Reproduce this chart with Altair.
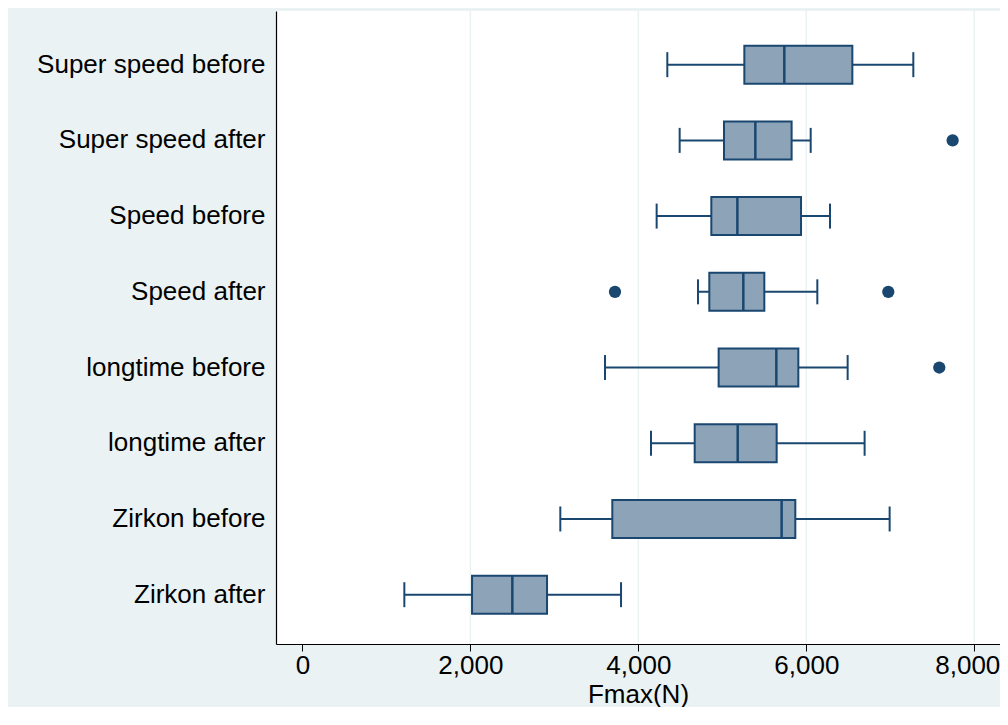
import altair as alt
import pandas as pd

categories = ["Super speed before", "Super speed after", "Speed before", "Speed after",
              "longtime before", "longtime after", "Zirkon before", "Zirkon after"]
whisker_lo = [4345, 4492, 4218, 4710, 3603, 4151, 3071, 1214]
q1 = [5262, 5020, 4869, 4845, 4956, 4671, 3690, 2020]
median = [5738, 5393, 5179, 5250, 5643, 5183, 5706, 2500]
q3 = [6548, 5825, 5937, 5500, 5905, 5647, 5869, 2913]
whisker_hi = [7274, 6052, 6282, 6131, 6492, 6694, 6992, 3794]

outlier_cat = ["Super speed after", "Speed after", "Speed after", "longtime before"]
outlier_val = [7742, 3722, 6976, 7583]

x_ticks = [0, 2000, 4000, 6000, 8000]
grid_values = [2000, 4000, 6000, 8000]

NAVY = "#1A476F"
FILL = "#8CA3B8"
BG = "#EAF2F3"
FONT = "Liberation Sans"

stats = pd.DataFrame({"cat": categories, "lo": whisker_lo, "q1": q1, "med": median,
                      "q3": q3, "hi": whisker_hi})
caps = pd.DataFrame({"cat": categories * 2, "v": whisker_lo + whisker_hi})
outs = pd.DataFrame({"cat": outlier_cat, "v": outlier_val})
grid = pd.DataFrame({"g": grid_values})

xscale = alt.Scale(domain=[-314, 8306], nice=False, zero=False)
yscale = alt.Scale(domain=categories, paddingInner=0, paddingOuter=0.18, align=0.58)

xaxis = alt.Axis(values=x_ticks, format=",d", title="Fmax(N)", grid=False,
                 labelFontSize=26, titleFontSize=26, titleFontWeight="normal",
                 labelFont=FONT, titleFont=FONT, labelColor="black", titleColor="black",
                 tickSize=7, tickColor="black", domainColor="black", tickWidth=1,
                 domainWidth=1, labelPadding=1, titlePadding=3, labelFlush=False,
                 labelOffset={"condition": {"test": "datum.value == 8000", "value": -7},
                              "value": 0})
yaxis = alt.Axis(title="", ticks=False, grid=False, labelFontSize=26, labelFont=FONT,
                 labelColor="black", domainColor="black", domainWidth=1.2,
                 labelPadding=11, labelLimit=400)

Y = alt.Y("cat:N", scale=yscale, axis=yaxis)

gridlayer = alt.Chart(grid).mark_rule(color=BG, strokeWidth=1.5).encode(
    x=alt.X("g:Q", scale=xscale, axis=xaxis))

whisk = alt.Chart(stats).mark_rule(color=NAVY, strokeWidth=2).encode(
    x=alt.X("lo:Q", scale=xscale, axis=xaxis), x2="hi:Q", y=Y)

caplayer = alt.Chart(caps).mark_tick(color=NAVY, size=25, thickness=2, opacity=1).encode(
    x=alt.X("v:Q", scale=xscale, axis=xaxis), y=Y)

box = alt.Chart(stats).mark_bar(size=38, fill=FILL, stroke=NAVY, strokeWidth=2).encode(
    x=alt.X("q1:Q", scale=xscale, axis=xaxis), x2="q3:Q", y=Y)

med = alt.Chart(stats).mark_tick(color=NAVY, size=38, thickness=2.5, opacity=1).encode(
    x=alt.X("med:Q", scale=xscale, axis=xaxis), y=Y)

pts = alt.Chart(outs).mark_circle(color=NAVY, size=150, opacity=1).encode(
    x=alt.X("v:Q", scale=xscale, axis=xaxis), y=Y)

chart = alt.layer(gridlayer, whisk, caplayer, box, med, pts).properties(
    width=724, height=633,
    autosize=alt.AutoSizeParams(type="none"),
    padding={"left": 268, "top": 3, "right": 0, "bottom": 63},
    background=BG,
).configure_view(fill="white", stroke=None)

chart.save("out.html", embed_options={"renderer": "svg", "actions": False})
